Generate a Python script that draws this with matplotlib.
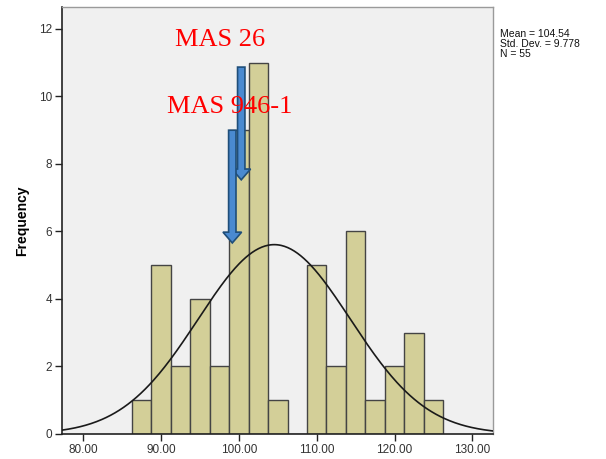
import numpy as np
import matplotlib
matplotlib.use("Agg")
import matplotlib.pyplot as plt
from matplotlib.patches import FancyArrow

# ---- data ----
bin_start = 86.25
bin_width = 2.5
counts = [1, 5, 2, 4, 2, 9, 11, 1, 0, 5, 2, 6, 1, 2, 3, 1]
mean = 104.54
std = 9.778
n = 55
xticks = [80, 90, 100, 110, 120, 130]
yticks = [0, 2, 4, 6, 8, 10, 12]
annotations = ["MAS 26", "MAS 946-1"]
arrow_x = [100.3, 99.15]
arrow_top = [10.87, 9.0]
arrow_tip = [7.53, 5.66]
label_pos = [(97.6, 11.67), (98.8, 9.69)]

plt.rcParams['font.family'] = ['Liberation Sans', 'DejaVu Sans']

fig = plt.figure(figsize=(6.06, 4.59), dpi=100)
ax = fig.add_axes([62/606, 1-434/459, (493-62)/606, (434-7)/459])
ax.set_facecolor('#f0f0f0')

edges = bin_start + bin_width*np.arange(len(counts)+1)
lefts = edges[:-1]
ax.bar(lefts, counts, width=bin_width, align='edge', color='#d3cf98',
       edgecolor='#444444', linewidth=1.0, zorder=2)

ax.set_xlim(77.26, 132.66)
ax.set_ylim(0, 12.65)
xs = np.linspace(77.26, 132.66, 400)
ys = n*bin_width/(std*np.sqrt(2*np.pi))*np.exp(-0.5*((xs-mean)/std)**2)
ax.plot(xs, ys, color='#1a1a1a', lw=1.2, zorder=3)

for x, t, tip in zip(arrow_x, arrow_top, arrow_tip):
    arr = FancyArrow(x, t, 0, tip - t, width=0.95, head_width=2.4,
                     head_length=0.32, length_includes_head=True,
                     facecolor='#4a8ad0', edgecolor='#1f4e79', linewidth=1.2,
                     zorder=4)
    ax.add_patch(arr)

for txt, (x, y) in zip(annotations, label_pos):
    ax.text(x, y, txt, color='red', fontsize=19, family=['Liberation Serif'],
            ha='center', va='center', zorder=5)

ax.set_xticks(xticks)
ax.set_xticklabels([f"{v:.2f}" for v in xticks], fontsize=8.5, color='#333333')
ax.set_yticks(yticks)
ax.set_yticklabels([str(v) for v in yticks], fontsize=8.5, color='#333333')
ax.tick_params(direction='out', length=5, width=1, color='#222222', pad=2)
ax.set_ylabel('Frequency', fontsize=10, fontweight='bold', labelpad=7)

for s in ['left', 'bottom']:
    ax.spines[s].set_color('#222222')
    ax.spines[s].set_linewidth(1.2)
for s in ['top', 'right']:
    ax.spines[s].set_color('#9a9a9a')
    ax.spines[s].set_linewidth(1.0)

fig.text(500/606, 1-29/459, f"Mean = {mean}\nStd. Dev. = {std}\nN = {n}",
         fontsize=7.5, va='top', ha='left', linespacing=1.0, color='#111111')

fig.savefig('out.png', dpi=100)
